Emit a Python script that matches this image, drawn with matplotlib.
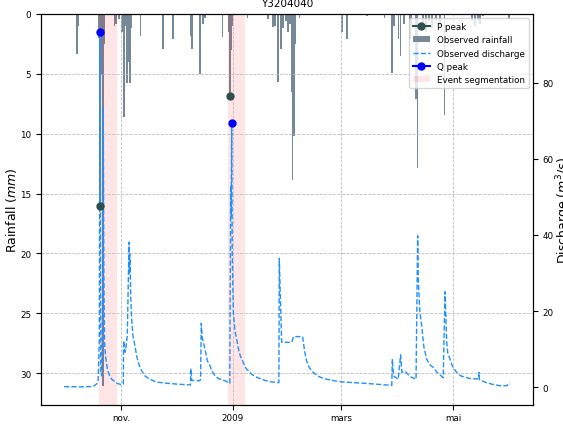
import pandas as pd
import matplotlib
matplotlib.use("Agg")
import matplotlib.pyplot as plt

plt.rcParams.update({"font.size": 6.3})

station = "Y3204040"

# pluie horaire observee (mm)
rain_time = ["2008-10-08 00:00", "2008-10-08 22:00", "2008-10-20 03:00", "2008-10-20 07:00",
             "2008-10-20 09:00", "2008-10-20 12:00", "2008-10-20 17:00", "2008-10-20 21:00",
             "2008-10-21 02:00", "2008-10-21 06:00", "2008-10-22 05:00", "2008-10-22 17:00",
             "2008-10-28 12:00", "2008-10-29 07:00", "2008-10-30 22:00", "2008-11-01 12:00",
             "2008-11-02 14:00", "2008-11-02 20:00", "2008-11-03 12:00", "2008-11-04 07:00",
             "2008-11-04 18:00", "2008-11-05 02:00", "2008-11-05 10:00", "2008-11-05 22:00",
             "2008-11-06 10:00", "2008-11-11 14:00", "2008-11-23 22:00", "2008-11-29 07:00",
             "2008-12-09 02:00", "2008-12-09 17:00", "2008-12-14 00:00", "2008-12-15 17:00",
             "2008-12-16 19:00", "2008-12-26 07:00", "2008-12-29 19:00", "2008-12-30 10:00",
             "2008-12-30 22:00", "2008-12-31 17:00", "2009-01-08 22:00", "2009-01-20 02:00",
             "2009-01-22 19:00", "2009-01-23 22:00", "2009-01-25 12:00", "2009-01-27 02:00",
             "2009-01-28 05:00", "2009-01-29 22:00", "2009-01-31 00:00", "2009-02-01 00:00",
             "2009-02-01 12:00", "2009-02-01 18:00", "2009-02-02 02:00", "2009-02-02 12:00",
             "2009-02-02 18:00", "2009-02-03 05:00", "2009-02-03 19:00", "2009-02-06 05:00",
             "2009-03-01 10:00", "2009-03-04 02:00", "2009-03-15 00:00", "2009-03-24 12:00",
             "2009-03-28 14:00", "2009-03-29 19:00", "2009-04-01 07:00", "2009-04-02 07:00",
             "2009-04-04 02:00", "2009-04-07 10:00", "2009-04-08 05:00", "2009-04-10 17:00",
             "2009-04-11 12:00", "2009-04-14 12:00", "2009-04-16 02:00", "2009-04-17 19:00",
             "2009-04-19 10:00", "2009-04-21 14:00", "2009-04-23 17:00", "2009-04-26 05:00",
             "2009-05-11 05:00", "2009-05-12 19:00", "2009-05-14 10:00", "2009-05-15 12:00",
             "2009-05-17 05:00", "2009-05-31 07:00"]
rain_mm = [3.3, 1.0, 2.0, 3.5,
           3.0, 16.0, 3.2, 2.6,
           5.0, 1.5, 31.1, 2.5,
           1.0, 0.8, 0.4, 1.5,
           8.6, 1.2, 1.0, 5.8,
           2.0, 4.0, 2.5, 5.8,
           1.2, 1.8, 2.9, 2.1,
           1.8, 2.9, 5.0, 0.8,
           0.3, 1.9, 1.5, 6.6,
           3.0, 1.0, 0.3, 0.4,
           1.1, 1.0, 5.7, 2.9,
           1.2, 0.6, 1.5, 0.8,
           0.6, 1.0, 6.5, 13.9,
           2.8, 10.2, 2.5, 0.3,
           1.5, 2.1, 0.2, 0.3,
           4.9, 1.0, 2.1, 3.5,
           0.8, 2.1, 1.0, 7.1,
           12.9, 0.8, 1.5, 0.6,
           1.2, 0.5, 1.0, 8.4,
           0.6, 1.0, 0.5, 0.8,
           0.2, 0.4]

# debit observe (m3/s)
q_time = ["2008-10-01 00:00", "2008-10-10 00:00", "2008-10-17 00:00", "2008-10-19 12:00",
          "2008-10-20 04:00", "2008-10-20 14:00", "2008-10-21 00:00", "2008-10-21 12:00",
          "2008-10-22 00:00", "2008-10-22 08:00", "2008-10-22 16:00", "2008-10-23 00:00",
          "2008-10-23 12:00", "2008-10-24 00:00", "2008-10-24 12:00", "2008-10-25 00:00",
          "2008-10-26 00:00", "2008-10-27 00:00", "2008-10-28 00:00", "2008-10-29 00:00",
          "2008-10-30 00:00", "2008-10-31 00:00", "2008-11-01 00:00", "2008-11-02 06:00",
          "2008-11-02 10:00", "2008-11-03 05:00", "2008-11-03 17:00", "2008-11-04 10:00",
          "2008-11-05 09:00", "2008-11-05 14:00", "2008-11-05 18:00", "2008-11-05 22:00",
          "2008-11-06 07:00", "2008-11-06 19:00", "2008-11-07 12:00", "2008-11-08 14:00",
          "2008-11-09 12:00", "2008-11-10 10:00", "2008-11-11 12:00", "2008-11-12 12:00",
          "2008-11-14 00:00", "2008-11-16 00:00", "2008-11-19 12:00", "2008-11-22 00:00",
          "2008-11-26 19:00", "2008-12-02 00:00", "2008-12-08 20:00", "2008-12-09 01:00",
          "2008-12-09 12:00", "2008-12-13 19:00", "2008-12-14 08:00", "2008-12-14 17:00",
          "2008-12-15 06:00", "2008-12-16 18:00", "2008-12-18 00:00", "2008-12-19 12:00",
          "2008-12-20 12:00", "2008-12-22 05:00", "2008-12-24 00:00", "2008-12-27 14:00",
          "2008-12-29 12:00", "2008-12-30 06:00", "2008-12-30 12:00", "2008-12-30 18:00",
          "2008-12-31 00:00", "2008-12-31 07:00", "2008-12-31 14:00", "2009-01-01 05:00",
          "2009-01-02 00:00", "2009-01-03 00:00", "2009-01-04 00:00", "2009-01-05 00:00",
          "2009-01-06 14:00", "2009-01-08 00:00", "2009-01-11 05:00", "2009-01-14 00:00",
          "2009-01-18 10:00", "2009-01-22 00:00", "2009-01-26 00:00", "2009-01-26 05:00",
          "2009-01-27 12:00", "2009-02-02 00:00", "2009-02-03 00:00", "2009-02-07 22:00",
          "2009-02-09 00:00", "2009-02-10 02:00", "2009-02-11 12:00", "2009-02-13 17:00",
          "2009-02-16 00:00", "2009-02-19 05:00", "2009-02-24 00:00", "2009-03-01 05:00",
          "2009-03-13 00:00", "2009-03-20 00:00", "2009-03-28 12:00", "2009-03-28 19:00",
          "2009-03-29 10:00", "2009-04-01 00:00", "2009-04-02 07:00", "2009-04-03 00:00",
          "2009-04-04 17:00", "2009-04-07 10:00", "2009-04-10 17:00", "2009-04-11 14:00",
          "2009-04-12 00:00", "2009-04-12 18:00", "2009-04-13 19:00", "2009-04-15 00:00",
          "2009-04-16 12:00", "2009-04-18 00:00", "2009-04-20 02:00", "2009-04-22 00:00",
          "2009-04-25 12:00", "2009-04-26 12:00", "2009-04-27 10:00", "2009-04-28 00:00",
          "2009-04-29 05:00", "2009-04-30 12:00", "2009-05-02 19:00", "2009-05-05 00:00",
          "2009-05-08 07:00", "2009-05-11 00:00", "2009-05-14 19:00", "2009-05-15 00:00",
          "2009-05-15 06:00", "2009-05-17 00:00", "2009-05-19 05:00", "2009-05-22 00:00",
          "2009-05-26 10:00", "2009-05-30 02:00", "2009-05-31 22:00"]
q_obs = [0.15, 0.1, 0.2, 1.2,
         12.0, 93.4, 4.0, 3.0,
         20.0, 73.0, 30.0, 12.0,
         8.5, 6.5, 5.0, 4.0,
         2.8, 2.1, 1.7, 1.3,
         1.0, 0.85, 0.7, 0.8,
         12.2, 9.2, 10.5, 13.5,
         38.1, 30.0, 35.0, 33.7,
         24.0, 17.9, 13.5, 10.9,
         8.3, 6.5, 5.0, 4.1,
         3.0, 2.3, 1.5, 1.25,
         1.0, 0.8, 0.6, 4.9,
         1.8, 1.7, 2.0, 16.8,
         13.0, 10.0, 7.0, 5.6,
         4.3, 3.0, 2.3, 1.7,
         1.2, 1.0, 30.0, 53.0,
         45.0, 69.4, 35.0, 19.7,
         15.0, 12.6, 10.0, 8.2,
         6.5, 5.0, 3.4, 2.6,
         1.8, 1.4, 1.2, 33.9,
         11.8, 11.8, 13.3, 13.3,
         9.5, 6.9, 5.2, 3.9,
         3.0, 2.3, 1.8, 1.4,
         1.05, 0.8, 0.5, 7.4,
         3.0, 2.1, 8.5, 3.9,
         4.2, 2.8, 2.1, 39.8,
         27.5, 20.0, 16.1, 10.5,
         7.4, 6.0, 5.2, 4.0,
         2.5, 25.1, 11.8, 9.0,
         7.4, 5.5, 3.9, 3.0,
         2.5, 2.2, 2.2, 3.9,
         2.0, 1.6, 1.2, 0.8,
         0.4, 0.4, 1.2]

event_start = ["2008-10-20 06:00", "2008-12-29 12:00"]
event_end = ["2008-10-30 00:00", "2009-01-07 12:00"]
p_peak_time = ["2008-10-20 12:00", "2008-12-30 10:00"]
p_peak_mm = [16.05, 6.85]
q_peak_time = ["2008-10-20 14:00", "2008-12-31 07:00"]
q_peak_val = [93.4, 69.4]

month_ticks = ["2008-11-01", "2009-01-01", "2009-03-01", "2009-05-01"]
month_labels = ["nov.", "2009", "mars", "mai"]


def dt(lst):
    return list(pd.to_datetime(lst).to_pydatetime())


fig = plt.figure(figsize=(5.63, 4.27), dpi=100)
fig.subplots_adjust(left=41/563, right=533/563, bottom=1-406/427, top=1-15/427)
ax = fig.add_subplot(111)
ax2 = ax.twinx()

# pluie (axe gauche, inverse)
bars = ax.bar(dt(rain_time), rain_mm, width=0.8, color="lightslategray", lw=0,
              zorder=1, label="Observed rainfall")
for s, e in zip(dt(event_start), dt(event_end)):
    span = ax.axvspan(s, e, color="red", alpha=0.1, lw=0, zorder=1.2,
                      label="Event segmentation")
ax.set_ylim(max(rain_mm)*1.05, 0)
ax.set_yticks([0, 5, 10, 15, 20, 25, 30])
ax.set_ylabel("Rainfall ($mm$)", fontsize=9, labelpad=1)
ax.grid(True, ls="--", color="0.75", lw=0.6)
ax.tick_params(axis="x", pad=2)

# debit (axe droit)
qline, = ax2.plot(dt(q_time), q_obs, "--", color="dodgerblue", lw=1.0,
                  label="Observed discharge")
for i, (t, q) in enumerate(zip(dt(q_peak_time), q_peak_val)):
    h, = ax2.plot([t], [q], "-o", color="blue", ms=5, zorder=4)
    if i == 0:
        qpk = h
# pics de pluie traces dans le repere de l'axe pluie, par-dessus le debit
for i, (t, p) in enumerate(zip(dt(p_peak_time), p_peak_mm)):
    h, = ax2.plot([t], [p], "-o", color="darkslategray", ms=5, zorder=4,
                  transform=ax.transData)
    if i == 0:
        ppk = h
qmax = max(q_obs)
ax2.set_ylim(-0.05*qmax, 1.05*qmax)
ax2.set_yticks([0, 20, 40, 60, 80])
ax2.set_ylabel("Discharge ($m^3/s$)", fontsize=9, labelpad=0)

ax.set_xlim(pd.Timestamp("2008-09-18 10:00"), pd.Timestamp("2009-06-13 10:00"))
ax.set_xticks(dt(month_ticks))
ax.set_xticklabels(month_labels)
ax.set_title(station, fontsize=7.5)

handles = [ppk, bars, qline, qpk, span]
labels = ["P peak", "Observed rainfall", "Observed discharge", "Q peak", "Event segmentation"]
ax2.legend(handles, labels, loc="upper right", fontsize=6.3)

fig.savefig("out.png", dpi=100)
